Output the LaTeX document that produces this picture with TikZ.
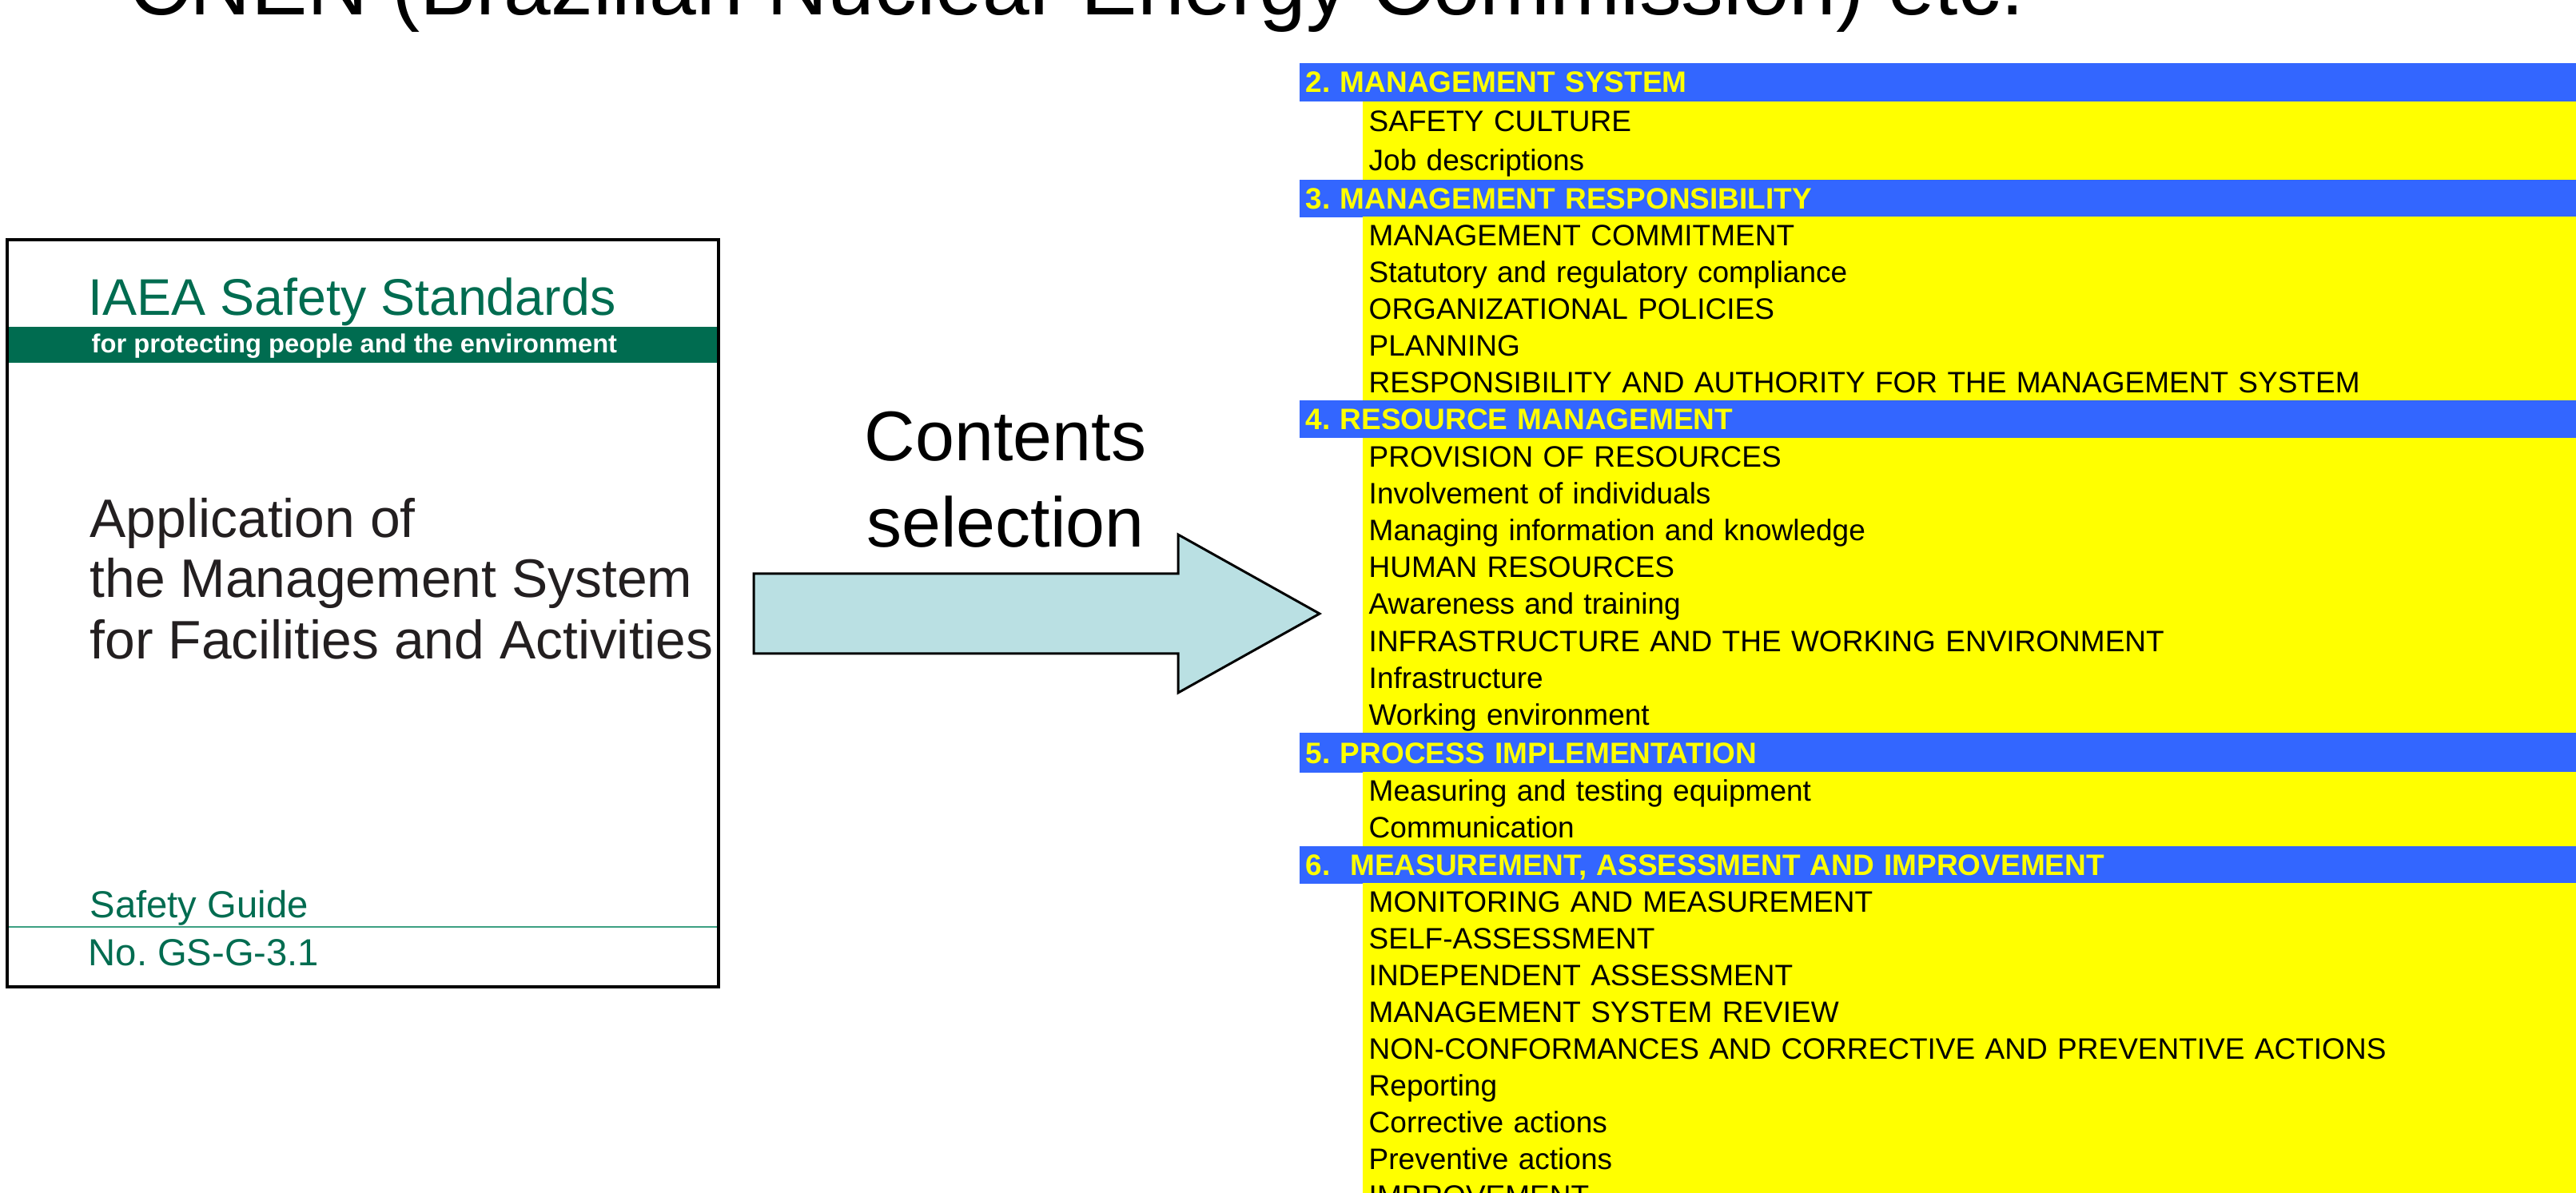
\documentclass[tikz,border=0pt]{standalone}
\usepackage{fontspec}
\setmainfont{Liberation Sans}
\usepackage{xcolor}
\usepackage{tikz}
\frenchspacing
\definecolor{barblue}{RGB}{51,102,255}
\definecolor{rowyellow}{RGB}{255,255,0}
\definecolor{iaeagreen}{RGB}{0,108,80}
\definecolor{ruleteal}{RGB}{60,160,130}
\definecolor{arrowfill}{RGB}{186,224,227}
\definecolor{covertext}{RGB}{35,31,32}
\tikzset{head/.style={fill=barblue,text=rowyellow,anchor=north west,inner xsep=0.08cm,inner ysep=0pt,minimum height=0.47cm,text width=16.5cm,text height=0.266cm,text depth=0pt,align=left,font=\fontsize{10.53}{12}\selectfont\bfseries}}
\tikzset{item/.style={fill=rowyellow,anchor=north west,inner xsep=0.08cm,inner ysep=0pt,minimum height=0.47cm,text width=15.5cm,text height=0.266cm,text depth=0pt,align=left,font=\fontsize{10.53}{12}\selectfont}}
\tikzset{cov/.style={anchor=base west,inner sep=0pt}}

\begin{document}
\begin{tikzpicture}
        \useasboundingbox (0,0) rectangle (32.23,-14.93);
        \clip (0,0) rectangle (32.23,-14.93);

        \node[cov,font=\fontsize{30.05}{36}\selectfont] (title) at (1.61,-0.19) {CNEN (Brazilian Nuclear Energy Commission) etc.};

        % book cover
        \fill[iaeagreen] (0.11,-4.09) rectangle (8.97,-4.54);
        \draw[ruleteal,line width=0.012cm] (0.11,-11.60) -- (8.97,-11.60);
        \draw[line width=0.045cm] (0.09,-3.00) rectangle (8.99,-12.35);
        \node[cov,text=iaeagreen,font=\fontsize{18.35}{22}\selectfont] (std) at (1.10,-3.95) {IAEA Safety Standards};
        \node[cov,text=white,font=\fontsize{9.3}{11}\selectfont\bfseries] (prot) at (1.14,-4.42) {for protecting people and the environment};
        \node[cov,text=covertext,font=\fontsize{19.29}{22}\selectfont] (app1) at (1.12,-6.72) {Application of};
        \node[cov,text=covertext,font=\fontsize{19.29}{22}\selectfont] (app2) at (1.12,-7.47) {the Management System};
        \node[cov,text=covertext,font=\fontsize{19.29}{22}\selectfont] (app3) at (1.12,-8.25) {for Facilities and Activities};
        \node[cov,text=iaeagreen,font=\fontsize{13.43}{16}\selectfont] (guide) at (1.12,-11.48) {Safety Guide};
        \node[cov,text=iaeagreen,font=\fontsize{13.43}{16}\selectfont] (num) at (1.10,-12.08) {No. GS-G-3.1};

        % arrow
        \node[anchor=base,inner sep=0pt,font=\fontsize{25.04}{30}\selectfont] (sel1) at (12.58,-5.77) {Contents};
        \node[anchor=base,inner sep=0pt,font=\fontsize{25.04}{30}\selectfont] (sel2) at (12.58,-6.85) {selection};
        \draw[fill=arrowfill,line width=0.03cm,line join=miter] (9.43,-7.18) -- (14.74,-7.18) -- (14.74,-6.69) -- (16.51,-7.68) -- (14.74,-8.67) -- (14.74,-8.18) -- (9.43,-8.18) -- cycle;

        % contents list
        \node[head,minimum height=0.48cm] (s2) at (16.25,-0.78) {2. MANAGEMENT SYSTEM};
        \node[item,minimum height=0.50cm] (s2a) at (17.04,-1.26) {SAFETY CULTURE};
        \node[item,minimum height=0.50cm] (s2b) at (17.04,-1.75) {Job descriptions};
        \node[head] (s3) at (16.25,-2.24) {3. MANAGEMENT RESPONSIBILITY};
        \node[item] (s3a) at (17.04,-2.70) {MANAGEMENT COMMITMENT};
        \node[item] (s3b) at (17.04,-3.16) {Statutory and regulatory compliance};
        \node[item] (s3c) at (17.04,-3.62) {ORGANIZATIONAL POLICIES};
        \node[item] (s3d) at (17.04,-4.08) {PLANNING};
        \node[item] (s3e) at (17.04,-4.54) {RESPONSIBILITY AND AUTHORITY FOR THE MANAGEMENT SYSTEM};
        \node[head] (s4) at (16.25,-5.00) {4. RESOURCE MANAGEMENT};
        \node[item] (s4a) at (17.04,-5.47) {PROVISION OF RESOURCES};
        \node[item] (s4b) at (17.04,-5.93) {Involvement of individuals};
        \node[item] (s4c) at (17.04,-6.39) {Managing information and knowledge};
        \node[item] (s4d) at (17.04,-6.85) {HUMAN RESOURCES};
        \node[item] (s4e) at (17.04,-7.31) {Awareness and training};
        \node[item] (s4f) at (17.04,-7.78) {INFRASTRUCTURE AND THE WORKING ENVIRONMENT};
        \node[item] (s4g) at (17.04,-8.24) {Infrastructure};
        \node[item] (s4h) at (17.04,-8.70) {Working environment};
        \node[head,minimum height=0.50cm] (s5) at (16.25,-9.16) {5. PROCESS IMPLEMENTATION};
        \node[item] (s5a) at (17.04,-9.65) {Measuring and testing equipment};
        \node[item] (s5b) at (17.04,-10.11) {Communication};
        \node[head] (s6) at (16.25,-10.58) {6.\ \ MEASUREMENT, ASSESSMENT AND IMPROVEMENT};
        \node[item] (s6a) at (17.04,-11.04) {MONITORING AND MEASUREMENT};
        \node[item] (s6b) at (17.04,-11.50) {SELF-ASSESSMENT};
        \node[item] (s6c) at (17.04,-11.96) {INDEPENDENT ASSESSMENT};
        \node[item] (s6d) at (17.04,-12.42) {MANAGEMENT SYSTEM REVIEW};
        \node[item] (s6e) at (17.04,-12.88) {NON-CONFORMANCES AND CORRECTIVE AND PREVENTIVE ACTIONS};
        \node[item] (s6f) at (17.04,-13.34) {Reporting};
        \node[item] (s6g) at (17.04,-13.80) {Corrective actions};
        \node[item] (s6h) at (17.04,-14.26) {Preventive actions};
        \node[item] (s6i) at (17.04,-14.72) {IMPROVEMENT};
    \end{tikzpicture}
\end{document}
